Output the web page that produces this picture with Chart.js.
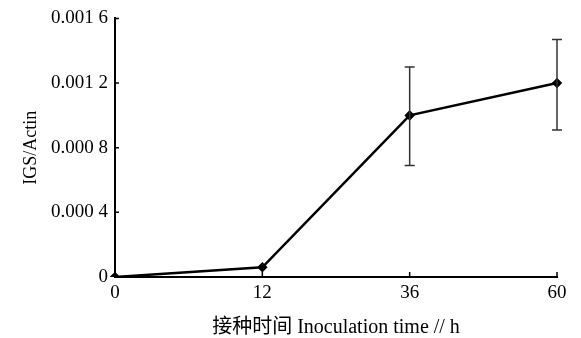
<!DOCTYPE html>
<html>
<head>
<meta charset="utf-8">
<script src="https://cdn.jsdelivr.net/npm/chart.js@4.4.1/dist/chart.umd.min.js"></script>
<style>
  html, body { margin: 0; padding: 0; background: #fff; }
  #wrap { width: 581px; height: 338px; }
</style>
</head>
<body>
<div id="wrap"><canvas id="igsChart"></canvas></div>
<script>
var timeLabels = ['0', '12', '36', '60'];
var ratioValues = [0, 0.00006, 0.00100, 0.00120];
var errLow = [null, null, 0.00069, 0.00091];
var errHigh = [null, null, 0.00130, 0.00147];
var yTickLabels = { 0: '0', 0.0004: '0.000 4', 0.0008: '0.000 8', 0.0012: '0.001 2', 0.0016: '0.001 6' };

var serif = '"Liberation Serif", "Noto Sans CJK SC", serif';

// error bars + inward tick marks
var extras = {
    id: 'extras',
    afterDatasetsDraw: function (chart) {
        var ctx = chart.ctx;
        var xs = chart.scales.x, ys = chart.scales.y;
        ctx.save();
        ctx.strokeStyle = '#333';
        ctx.lineWidth = 1.5;
        for (var i = 0; i < timeLabels.length; i++) {
            if (errLow[i] === null) continue;
            var px = xs.getPixelForValue(i);
            var y1 = ys.getPixelForValue(errLow[i]);
            var y2 = ys.getPixelForValue(errHigh[i]);
            ctx.beginPath();
            ctx.moveTo(px, y1); ctx.lineTo(px, y2);
            ctx.moveTo(px - 5, y1); ctx.lineTo(px + 5, y1);
            ctx.moveTo(px - 5, y2); ctx.lineTo(px + 5, y2);
            ctx.stroke();
        }
        ctx.strokeStyle = '#000';
        ctx.lineWidth = 1.5;
        ctx.beginPath();
        ys.ticks.forEach(function (t) {
            var py = ys.getPixelForValue(t.value);
            ctx.moveTo(xs.left, py); ctx.lineTo(xs.left + 4, py);
        });
        for (var j = 1; j < timeLabels.length; j++) {
            var tx = xs.getPixelForValue(j);
            ctx.moveTo(tx, ys.bottom); ctx.lineTo(tx, ys.bottom - 5);
        }
        ctx.stroke();
        ctx.restore();
    }
};

new Chart(document.getElementById('igsChart').getContext('2d'), {
    type: 'line',
    data: {
        labels: timeLabels,
        datasets: [{
            data: ratioValues,
            borderColor: '#000',
            backgroundColor: '#000',
            borderWidth: 2.5,
            pointStyle: 'rectRot',
            pointRadius: 3.5,
            tension: 0
        }]
    },
    options: {
        responsive: true,
        maintainAspectRatio: false,
        animation: false,
        layout: { padding: { top: 15, right: 24, left: 0, bottom: 0 } },
        plugins: { legend: { display: false }, tooltip: { enabled: false } },
        scales: {
            x: {
                offset: false,
                border: { color: '#000', width: 2 },
                grid: { display: false, drawTicks: false },
                ticks: { color: '#000', font: { family: serif, size: 19 }, padding: 5, maxRotation: 0 },
                title: {
                    display: true,
                    text: '接种时间 Inoculation time // h',
                    color: '#000',
                    font: { family: serif, size: 20, lineHeight: 1 },
                    padding: { top: 6, bottom: 0 }
                },
                afterFit: function (s) { s.height = 61; }
            },
            y: {
                min: 0,
                max: 0.0016,
                border: { color: '#000', width: 2 },
                grid: { display: false, drawTicks: false },
                ticks: {
                    stepSize: 0.0004,
                    color: '#000',
                    padding: 7,
                    font: { family: serif, size: 19 },
                    callback: function (v) {
                        var key = Math.round(v * 10000) / 10000;
                        return yTickLabels[key] !== undefined ? yTickLabels[key] : '';
                    }
                },
                title: {
                    display: true,
                    text: 'IGS/Actin',
                    color: '#000',
                    font: { family: serif, size: 18 },
                    padding: { top: 20, bottom: 0 }
                },
                afterFit: function (s) { s.width = 115; }
            }
        }
    },
    plugins: [extras]
});
</script>
</body>
</html>
